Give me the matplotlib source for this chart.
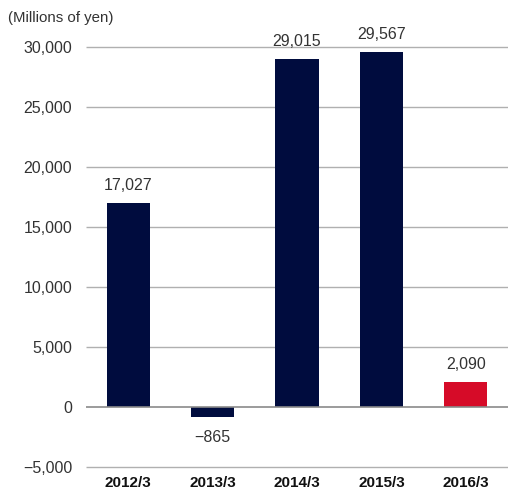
import matplotlib
matplotlib.use("Agg")
import matplotlib.pyplot as plt

categories = ["2012/3", "2013/3", "2014/3", "2015/3", "2016/3"]
values = [17027, -865, 29015, 29567, 2090]
value_labels = ["17,027", "\u2212865", "29,015", "29,567", "2,090"]
bar_colors = ["#000c3e", "#000c3e", "#000c3e", "#000c3e", "#d60b28"]
yticks = [-5000, 0, 5000, 10000, 15000, 20000, 25000, 30000]
ytick_labels = ["\u22125,000", "0", "5,000", "10,000", "15,000", "20,000", "25,000", "30,000"]

plt.rcParams["font.family"] = ["Liberation Sans", "DejaVu Sans"]

W, H = 508, 496
px_per_unit = 60 / 5000
ymin, ymax = -5250, 30000
top_px = 47
bottom_px = top_px + (ymax - ymin) * px_per_unit

fig = plt.figure(figsize=(W / 100, H / 100), dpi=100)
ax = fig.add_axes([86 / W, (H - bottom_px) / H, (W - 86) / W, (bottom_px - top_px) / H])

x = list(range(len(categories)))
ax.bar(x, values, width=0.51, color=bar_colors, zorder=3)

xlo, xhi = -0.5, len(categories) - 0.5
ax.set_xlim(xlo, xhi)
ax.set_ylim(ymin, ymax)
ax.set_yticks(yticks)
ax.set_yticklabels(ytick_labels)
ax.set_xticks(x)
ax.set_xticklabels(categories, fontweight="bold")

# horizontal gridlines, with a darker baseline at zero
grid_y = [y for y in yticks if y != 0]
ax.hlines(grid_y, xlo, xhi, colors="#b0b0b0", linewidth=1.0, zorder=1, clip_on=False)
ax.hlines([0], xlo, xhi, colors="#8a8a8a", linewidth=1.2, zorder=4)

for s in ax.spines.values():
    s.set_visible(False)
ax.tick_params(axis="y", length=0, pad=10, labelsize=11.5, labelcolor="#333333")
ax.tick_params(axis="x", length=0, pad=4, labelsize=11, labelcolor="#111111")

for xi, v, lab in zip(x, values, value_labels):
    if v >= 0:
        ax.annotate(lab, (xi, v), xytext=(0, 7), textcoords="offset points",
                    ha="center", va="bottom", fontsize=11.5, color="#333333")
    else:
        ax.annotate(lab, (xi, v), xytext=(0, -9), textcoords="offset points",
                    ha="center", va="top", fontsize=11.5, color="#333333")

fig.text(8 / W, 1 - 18 / H, "(Millions of yen)", ha="left", va="center",
         fontsize=10.8, color="#333333")

fig.savefig("out.png", dpi=100)
